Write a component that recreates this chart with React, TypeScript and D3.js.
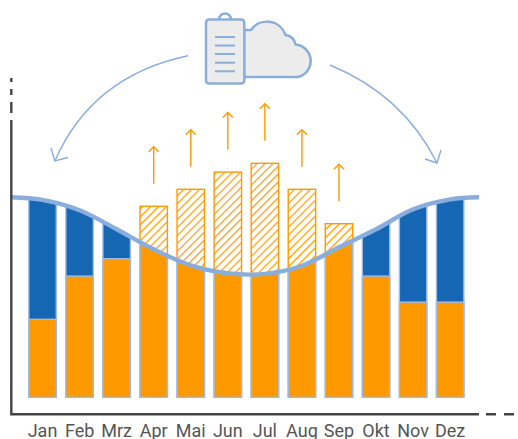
import * as d3 from 'd3';

const months = ['Jan', 'Feb', 'Mrz', 'Apr', 'Mai', 'Jun', 'Jul', 'Aug', 'Sep', 'Okt', 'Nov', 'Dez'];
// solar yield per month (relative, demand at start of year = 100)
const production = [39, 60.6, 69.3, 95.5, 104, 112.6, 117, 104, 86.8, 60.6, 47.6, 47.6];
// demand curve, month position (0 = Jan) -> value
const demandPos = [-0.85, 0, 1, 2, 3, 4, 5, 6, 7, 8, 9, 10, 11, 11.78];
const demand = [100, 98.7, 93.5, 84, 74, 66, 62, 61.7, 65.8, 75, 84, 94, 99, 100];

const width = 518;
const height = 439;
const baseY = 397.3;
const axisColor = '#444444';
const lineBlue = '#8aaedc';
const barEdge = '#9dbae4';
const blue = '#1567b3';
const orange = '#ff9900';

const xBand = d3.scaleBand<string>().domain(months).range([24, 468.7]).paddingInner(0.26).paddingOuter(0.13);
const yScale = d3.scaleLinear().domain([0, 100]).range([baseY, baseY - 200]);
const center = (i: number) => xBand(months[0])! + xBand.bandwidth() / 2 + i * xBand.step();

const curvePts = demandPos.map((p, i) => ({ x: center(p), y: yScale(demand[i]) }));
const curve = d3.line<{ x: number; y: number }>().x(d => d.x).y(d => d.y).curve(d3.curveCatmullRom)(curvePts)!;
const areaBelow = d3.area<{ x: number; y: number }>().x(d => d.x).y0(baseY + 5).y1(d => d.y).curve(d3.curveCatmullRom)(curvePts)!;
const areaAbove = d3.area<{ x: number; y: number }>().x(d => d.x).y0(0).y1(d => d.y).curve(d3.curveCatmullRom)(curvePts)!;

function Icon() {
    return (
        <g stroke={lineBlue} strokeWidth={2.5} fill="#ececec">
            <path d="M244,30 H251 A19.5,19.5 0 0 1 285.5,35 A11,11 0 0 1 295.5,44.5 A16.5,16.5 0 0 1 298,77 H244 Z" strokeLinejoin="round" />
            <path d="M219,19.5 A6,6 0 0 1 231,19.5" fill="none" />
            <rect x={206} y={19.5} width={38.3} height={64} rx={3} />
            <g strokeWidth={2}>
                {[37, 45.5, 54, 62.7, 71.3].map(y => <line key={y} x1={215} x2={235} y1={y} y2={y} />)}
            </g>
        </g>
    );
}

export default function App() {
    const bw = xBand.bandwidth();
    return (
        <svg width={width} height={height} style={{ position: 'absolute', left: 0, top: 0 }}>
            <defs>
                <pattern id="hatch" width={5.6} height={5.6} patternUnits="userSpaceOnUse" patternTransform="rotate(45)">
                    <rect width={5.6} height={5.6} fill="#fff" />
                    <line x1={0} x2={0} y1={0} y2={5.6} stroke={orange} strokeWidth={2.4} />
                </pattern>
                <clipPath id="below"><path d={areaBelow} /></clipPath>
                <clipPath id="above"><path d={areaAbove} /></clipPath>
            </defs>

            {/* hatched surplus above the demand curve */}
            <g clipPath="url(#above)">
                {months.map((m, i) => production[i] > demand[i + 1] && (
                    <rect key={m} x={xBand(m)} y={yScale(production[i])} width={bw} height={baseY - yScale(production[i])}
                        fill="url(#hatch)" stroke={orange} strokeWidth={1.4} />
                ))}
            </g>

            {/* bars under the curve */}
            <g clipPath="url(#below)">
                {months.map((m, i) => (
                    <g key={m} stroke={barEdge} strokeWidth={1.4}>
                        <rect x={xBand(m)} y={yScale(130)} width={bw} height={baseY - yScale(130)} fill={blue} />
                        <rect x={xBand(m)} y={yScale(production[i])} width={bw} height={baseY - yScale(production[i])} fill={orange} />
                    </g>
                ))}
            </g>

            <path d={curve} fill="none" stroke={lineBlue} strokeWidth={4.4} />

            {/* arrows above the surplus bars */}
            <g stroke={orange} strokeWidth={1.4} fill="none">
                {months.map((m, i) => {
                    if (production[i] <= demand[i + 1]) return null;
                    const x = center(i);
                    const bottom = yScale(production[i]) - 22.5;
                    const top = bottom - 37;
                    return (
                        <g key={m}>
                            <line x1={x} x2={x} y1={bottom} y2={top} />
                            <path d={`M${x - 5},${top + 5} L${x},${top} L${x + 5},${top + 5}`} />
                        </g>
                    );
                })}
            </g>

            {/* axes */}
            <g stroke={axisColor} strokeWidth={2.4} fill="none">
                <path d="M11.3,120 V414.3 H479" />
                <path d="M11.3,113 V102 M11.3,95 V89 M11.3,82 V78" />
                <path d="M486,414.3 H496 M504,414.3 H514" />
            </g>

            {months.map((m, i) => (
                <text key={m} x={center(i)} y={437} textAnchor="middle" fontFamily="Roboto" fontSize={18} fill="#555555">{m}</text>
            ))}

            <Icon />

            {/* curved arrows */}
            <g stroke={lineBlue} strokeWidth={1.4} fill="none">
                <path d="M188,55.7 Q92,76 55,160.7" />
                <path d="M51,148 L54.8,161 L68,157.5" />
                <path d="M330,65 Q403,95 437,163" />
                <path d="M425,159 L437,163 L441,150" />
            </g>
        </svg>
    );
}
